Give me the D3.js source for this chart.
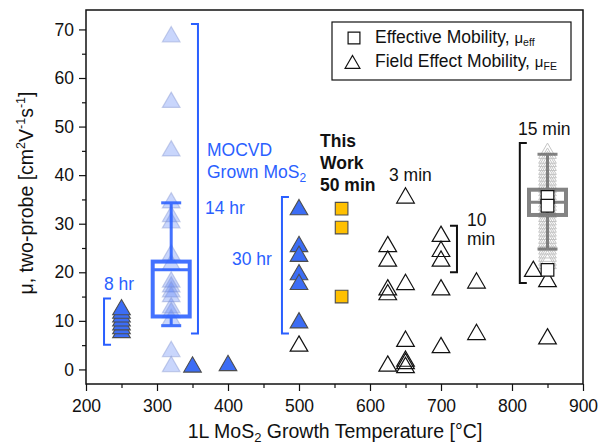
<!DOCTYPE html>
<html>
<head>
<meta charset="utf-8">
<script src="https://cdn.jsdelivr.net/npm/d3@7"></script>
<style>
  body { margin: 0; background: #fff; }
  svg text { font-family: "Liberation Sans", Arial, sans-serif; }
</style>
</head>
<body>
<div id="chart"></div>
<script>
// ---- data (temperature °C, mobility cm2/Vs) ----
const xTicks = [200, 300, 400, 500, 600, 700, 800, 900];
const yTicks = [0, 10, 20, 30, 40, 50, 60, 70];

const mocvd8hr = [[250, 7.6], [250, 8.4], [250, 9.2], [250, 10.0], [250, 10.8], [250, 11.6], [250, 12.3]];
const mocvd14hr = [[320, 68.5], [320, 55], [320, 45], [320, 34.3], [320, 31.5], [320, 30.2], [320, 23.6],
  [320, 21.6], [320, 18], [320, 17], [320, 16], [320, 15], [320, 12.7], [320, 11.7], [320, 10.3],
  [320, 3.7], [320, 0.6]];
const mocvdOther = [[350, 0.5], [400, 0.8]];
const mocvd30hr = [[500, 32.9], [500, 25.3], [500, 23.3], [500, 19.5], [500, 17.5], [500, 9.6]];
const thisWork = [[560, 33.1], [560, 29.2], [560, 15.0]];
const fieldEffect = [[500, 4.8], [625, 25.3], [625, 22.3], [625, 16.4], [625, 15.4], [625, 0.7],
  [650, 35.3], [650, 17.5], [650, 5.8], [650, 1.7], [650, 1.2], [650, 0.4],
  [700, 27.4], [700, 24.3], [700, 22.3], [700, 16.4], [700, 4.5],
  [750, 17.8], [750, 7.2], [830, 20.2], [850, 18.1], [850, 6.3]];
const effective = [[850, 35.5], [850, 33.7], [850, 20.5]];
const cvd15min = [44.5, 43.5, 42.8, 42, 41.2, 40.5, 39.8, 39, 38.3, 37.5, 36.8, 36, 35.2, 34.5,
  33.8, 33, 32.3, 31.5, 30.8, 30, 29.3, 28.5, 27.8, 27, 26.3, 25.5, 24.8, 24, 23.3, 22.5, 21.8];

// box stats: [temp, whiskerLow, q1, median, q3, whiskerHigh]
const box14hr = [320, 9.0, 10.9, 20.5, 22.2, 34.3];
const box15min = [850, 24.8, 31.8, 34.4, 37.0, 44.3];

// brackets: [temp, low, high, tip direction]
const brackets = [
  { t: 225.4, lo: 5.1, hi: 14.6, dir: 1, color: '#2a5fff' },
  { t: 357.7, lo: 7.4, hi: 71.1, dir: -1, color: '#2a5fff' },
  { t: 476, lo: 7.4, hi: 35.5, dir: 1, color: '#2a5fff' },
  { t: 722.5, lo: 20, hi: 29.6, dir: -1, color: '#111' },
  { t: 811, lo: 17.8, hi: 46.6, dir: 1, color: '#111' },
];

const width = 600, height = 446;
const margin = { left: 86, right: 17, top: 10, bottom: 62 };

const x = d3.scaleLinear().domain([200, 900]).range([margin.left, width - margin.right]);
const y = d3.scaleLinear().domain([-3, 74]).range([height - margin.bottom, margin.top]);

const svg = d3.select('#chart').append('svg')
  .attr('width', width)
  .attr('height', height);

const blue = '#2a5fff';
const triFill = '#3c6df5';
const tri = d3.symbol().type(d3.symbolTriangle).size(135);
const triSmall = d3.symbol().type(d3.symbolTriangle).size(95);
const sq = d3.symbol().type(d3.symbolSquare).size(160);

// axes
const xAxis = d3.axisBottom(x).tickValues(xTicks).tickSize(7).tickPadding(9).tickFormat(d3.format('d'));
const yAxis = d3.axisLeft(y).tickValues(yTicks).tickSize(7).tickPadding(5);

const gx = svg.append('g').attr('transform', `translate(0,${y.range()[0]})`).call(xAxis);
const gy = svg.append('g').attr('transform', `translate(${x.range()[0]},0)`).call(yAxis);
[gx, gy].forEach(g => {
  g.select('.domain').remove();
  g.selectAll('line').attr('stroke', '#111').attr('stroke-width', 1.2);
  g.selectAll('text').attr('font-size', 17.5).attr('fill', '#111').attr('font-family', '"Liberation Sans", Arial, sans-serif');
});

svg.append('g').attr('transform', `translate(0,${y.range()[0]})`)
  .call(d3.axisBottom(x).tickValues([250, 350, 450, 550, 650, 750, 850]).tickSize(4).tickFormat(''))
  .call(g => g.select('.domain').remove())
  .selectAll('line').attr('stroke', '#111').attr('stroke-width', 1.2);
svg.append('g').attr('transform', `translate(${x.range()[0]},0)`)
  .call(d3.axisLeft(y).tickValues([5, 15, 25, 35, 45, 55, 65]).tickSize(4).tickFormat(''))
  .call(g => g.select('.domain').remove())
  .selectAll('line').attr('stroke', '#111').attr('stroke-width', 1.2);

svg.append('rect')
  .attr('x', x.range()[0]).attr('y', y.range()[1])
  .attr('width', x.range()[1] - x.range()[0])
  .attr('height', y.range()[0] - y.range()[1])
  .attr('fill', 'none').attr('stroke', '#111').attr('stroke-width', 1.5);

// axis titles
const xt = svg.append('text')
  .attr('x', 335).attr('y', 438)
  .attr('text-anchor', 'middle').attr('font-size', 19.5).attr('fill', '#111');
xt.append('tspan').text('1L MoS');
xt.append('tspan').attr('font-size', 13).attr('dy', 4).text('2');
xt.append('tspan').attr('dy', -4).text(' Growth Temperature [°C]');

const yt = svg.append('text')
  .attr('transform', 'translate(33,193) rotate(-90)')
  .attr('text-anchor', 'middle').attr('font-size', 19.5).attr('fill', '#111');
yt.append('tspan').text('μ, two-probe [cm');
yt.append('tspan').attr('font-size', 12.5).attr('dy', -8).text('2');
yt.append('tspan').attr('dy', 8).text('V');
yt.append('tspan').attr('font-size', 12.5).attr('dy', -8).text('-1');
yt.append('tspan').attr('dy', 8).text('s');
yt.append('tspan').attr('font-size', 12.5).attr('dy', -8).text('-1');
yt.append('tspan').attr('dy', 8).text(']');

// 15 min CVD light triangles
svg.append('g').selectAll('path').data(cvd15min).join('path')
  .attr('d', tri)
  .attr('transform', d => `translate(${x(850)},${y(d)})`)
  .attr('fill', 'none').attr('stroke', '#c4c4c4').attr('stroke-width', 1);

// 14 hr light triangles
svg.append('g').selectAll('path').data(mocvd14hr).join('path')
  .attr('d', tri)
  .attr('transform', d => `translate(${x(d[0])},${y(d[1])})`)
  .attr('fill', triFill).attr('fill-opacity', 0.28)
  .attr('stroke', '#8a9ad0').attr('stroke-opacity', 0.45).attr('stroke-width', 1.2);

// box plots
function drawBox(b, color, opacity) {
  const [t, wl, q1, med, q3, wh] = b;
  const cx = x(t), bw = 37, cw = 20;
  const g = svg.append('g').attr('stroke', color).attr('fill', 'none').attr('opacity', opacity);
  g.append('line').attr('x1', cx).attr('x2', cx).attr('y1', y(wh)).attr('y2', y(q3)).attr('stroke-width', 3);
  g.append('line').attr('x1', cx).attr('x2', cx).attr('y1', y(q1)).attr('y2', y(wl)).attr('stroke-width', 3);
  g.append('line').attr('x1', cx - cw / 2).attr('x2', cx + cw / 2).attr('y1', y(wh)).attr('y2', y(wh)).attr('stroke-width', 3);
  g.append('line').attr('x1', cx - cw / 2).attr('x2', cx + cw / 2).attr('y1', y(wl)).attr('y2', y(wl)).attr('stroke-width', 3);
  g.append('rect').attr('x', cx - bw / 2).attr('y', y(q3)).attr('width', bw).attr('height', y(q1) - y(q3)).attr('stroke-width', 4);
  g.append('line').attr('x1', cx - bw / 2).attr('x2', cx + bw / 2).attr('y1', y(med)).attr('y2', y(med)).attr('stroke-width', 3);
  return g;
}
drawBox(box14hr, '#2f63ff', 0.9);
const grayBox = drawBox(box15min, '#6e6e6e', 0.85);
grayBox.append('line').attr('x1', x(850)).attr('x2', x(850))
  .attr('y1', y(box15min[4])).attr('y2', y(box15min[2])).attr('stroke-width', 3);

// dark blue MOCVD triangles
svg.append('g').selectAll('path').data([...mocvd8hr, ...mocvdOther, ...mocvd30hr]).join('path')
  .attr('d', tri)
  .attr('transform', d => `translate(${x(d[0])},${y(d[1])})`)
  .attr('fill', triFill).attr('stroke', '#4d4d4d').attr('stroke-width', 1.1);

// open field-effect triangles
svg.append('g').selectAll('path').data(fieldEffect).join('path')
  .attr('d', tri)
  .attr('transform', d => `translate(${x(d[0])},${y(d[1])})`)
  .attr('fill', 'none').attr('stroke', '#111').attr('stroke-width', 1.2);

// effective mobility squares
svg.append('g').selectAll('path').data(effective).join('path')
  .attr('d', sq)
  .attr('transform', d => `translate(${x(d[0])},${y(d[1])})`)
  .attr('fill', '#fff').attr('stroke', '#111').attr('stroke-width', 1.2);

svg.append('g').selectAll('path').data(thisWork).join('path')
  .attr('d', sq)
  .attr('transform', d => `translate(${x(d[0])},${y(d[1])})`)
  .attr('fill', '#ffc000').attr('stroke', '#4d4d4d').attr('stroke-width', 1.1);

// brackets
svg.append('g').selectAll('path').data(brackets).join('path')
  .attr('d', d => {
    const bx = x(d.t), tip = bx + d.dir * 7;
    return `M${tip},${y(d.hi)}H${bx}V${y(d.lo)}H${tip}`;
  })
  .attr('fill', 'none').attr('stroke', d => d.color).attr('stroke-width', 2);

// annotations
function label(xp, yp, txt, opts = {}) {
  return svg.append('text').attr('x', xp).attr('y', yp)
    .attr('font-size', opts.size || 17.5)
    .attr('font-weight', opts.bold ? 'bold' : null)
    .attr('fill', opts.color || '#111')
    .attr('text-anchor', opts.anchor || 'start')
    .text(txt);
}
label(104, 290, '8 hr', { color: blue });
label(205, 214, '14 hr', { color: blue });
label(232, 265, '30 hr', { color: blue });
label(207, 156, 'MOCVD', { color: blue });
const gm = label(207, 178, 'Grown MoS', { color: blue });
gm.append('tspan').attr('font-size', 12).attr('dy', 4).text('2');
label(320, 147, 'This', { bold: true });
label(320, 169, 'Work', { bold: true });
label(320, 191, '50 min', { bold: true });
label(389, 181, '3 min');
label(467, 226, '10');
label(467, 245, 'min');
label(518, 135, '15 min');

// legend
const lg = svg.append('g');
lg.append('rect').attr('x', 332).attr('y', 22).attr('width', 239).attr('height', 58)
  .attr('fill', '#fff').attr('stroke', '#111').attr('stroke-width', 1.2);
lg.append('path').attr('d', d3.symbol().type(d3.symbolSquare).size(140))
  .attr('transform', 'translate(354,38)').attr('fill', 'none').attr('stroke', '#111').attr('stroke-width', 1.2);
lg.append('path').attr('d', triSmall)
  .attr('transform', 'translate(352.5,64)').attr('fill', 'none').attr('stroke', '#111').attr('stroke-width', 1.2);
const l1 = lg.append('text').attr('x', 375).attr('y', 43).attr('font-size', 17.5).attr('fill', '#111');
l1.append('tspan').text('Effective Mobility, ');
l1.append('tspan').attr('font-size', 15).text('μ');
l1.append('tspan').attr('font-size', 10.5).attr('dy', 3).text('eff');
const l2 = lg.append('text').attr('x', 375).attr('y', 67).attr('font-size', 17.5).attr('fill', '#111');
l2.append('tspan').text('Field Effect Mobility, ');
l2.append('tspan').attr('font-size', 15).text('μ');
l2.append('tspan').attr('font-size', 10.5).attr('dy', 3).text('FE');
</script>
</body>
</html>
